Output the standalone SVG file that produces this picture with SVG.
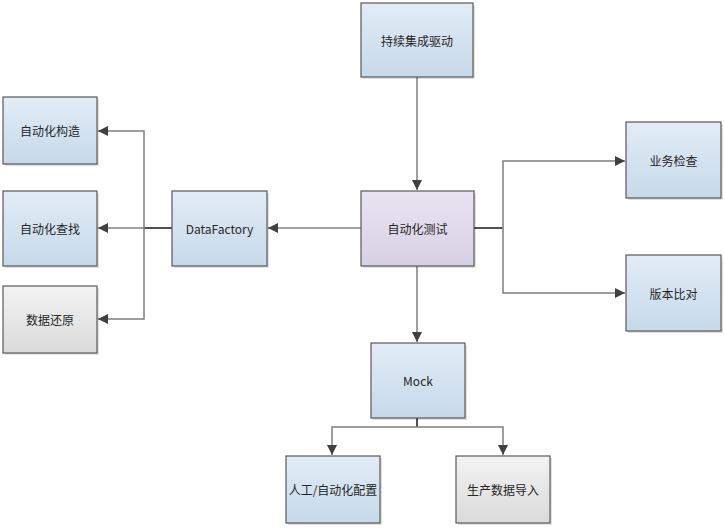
<svg xmlns="http://www.w3.org/2000/svg" width="724" height="528" viewBox="0 0 724 528">
<defs>
<linearGradient id="gb" x1="0" y1="0" x2="0" y2="1"><stop offset="0" stop-color="#e2ecf6"/><stop offset="1" stop-color="#c6d9ea"/></linearGradient>
<linearGradient id="gp" x1="0" y1="0" x2="0" y2="1"><stop offset="0" stop-color="#e8e3f0"/><stop offset="1" stop-color="#d8d0e5"/></linearGradient>
<linearGradient id="gg" x1="0" y1="0" x2="0" y2="1"><stop offset="0" stop-color="#f3f3f3"/><stop offset="1" stop-color="#dadada"/></linearGradient>
<marker id="ar" viewBox="0 0 10 10" refX="10" refY="5" markerWidth="10" markerHeight="10" markerUnits="userSpaceOnUse" orient="auto"><path d="M0,0 L10,5 L0,10 z" fill="#404040"/></marker>
</defs>
<style>
.box{stroke:#595959;stroke-width:1.2}
.sh{fill:#000;opacity:0.12}
.b{fill:url(#gb)}.p{fill:url(#gp)}.g{fill:url(#gg)}
text{font-family:"Microsoft YaHei","Noto Sans CJK SC","Noto Sans",sans-serif;font-size:12px;fill:#262626;text-anchor:middle;dominant-baseline:central}
.ln{fill:none;stroke:#7f7f7f;stroke-width:1.5}
.dk{fill:none;stroke:#505050;stroke-width:2}
</style>
<g id="connectors">
<line class="ln" x1="417" y1="77" x2="417" y2="190" marker-end="url(#ar)"/>
<line class="ln" x1="361" y1="228" x2="268" y2="228" marker-end="url(#ar)"/>
<line class="dk" x1="172" y1="228" x2="144" y2="228"/>
<line class="ln" x1="144" y1="228" x2="98" y2="228" marker-end="url(#ar)"/>
<polyline class="ln" points="144,228 144,131 98,131" marker-end="url(#ar)"/>
<polyline class="ln" points="144,228 144,319 98,319" marker-end="url(#ar)"/>
<line class="dk" x1="474" y1="228" x2="503" y2="228"/>
<polyline class="ln" points="503,228 503,161 625,161" marker-end="url(#ar)"/>
<polyline class="ln" points="503,228 503,293 625,293" marker-end="url(#ar)"/>
<line class="ln" x1="417" y1="266" x2="417" y2="342" marker-end="url(#ar)"/>
<line class="dk" x1="417" y1="418" x2="417" y2="427"/>
<polyline class="ln" points="417,427 332,427 332,455" marker-end="url(#ar)"/>
<polyline class="ln" points="417,427 503,427 503,455" marker-end="url(#ar)"/>
</g>
<g id="n-ci"><rect class="sh" x="363" y="5" width="112" height="74"/><rect class="box b" x="361" y="3" width="112" height="74"/><text x="417" y="40">持续集成驱动</text></g>
<g id="n-test"><rect class="sh" x="363" y="193" width="113" height="75"/><rect class="box p" x="361" y="191" width="113" height="75"/><text x="417.5" y="228.5">自动化测试</text></g>
<g id="n-df"><rect class="sh" x="174" y="193" width="95" height="75"/><rect class="box b" x="172" y="191" width="95" height="75"/><text x="219.5" y="228.5">DataFactory</text></g>
<g id="n-build"><rect class="sh" x="5" y="99" width="94" height="67"/><rect class="box b" x="3" y="97" width="94" height="67"/><text x="50" y="130.5">自动化构造</text></g>
<g id="n-find"><rect class="sh" x="5" y="193" width="94" height="75"/><rect class="box b" x="3" y="191" width="94" height="75"/><text x="50" y="228.5">自动化查找</text></g>
<g id="n-restore"><rect class="sh" x="5" y="288" width="94" height="67"/><rect class="box g" x="3" y="286" width="94" height="67"/><text x="50" y="319.5">数据还原</text></g>
<g id="n-biz"><rect class="sh" x="628" y="124" width="95" height="76"/><rect class="box b" x="626" y="122" width="95" height="76"/><text x="673.5" y="160">业务检查</text></g>
<g id="n-ver"><rect class="sh" x="628" y="257" width="95" height="76"/><rect class="box b" x="626" y="255" width="95" height="76"/><text x="673.5" y="293">版本比对</text></g>
<g id="n-mock"><rect class="sh" x="373" y="345" width="94" height="75"/><rect class="box b" x="371" y="343" width="94" height="75"/><text x="418" y="380.5">Mock</text></g>
<g id="n-cfg"><rect class="sh" x="288" y="458" width="94" height="67"/><rect class="box b" x="286" y="456" width="94" height="67"/><text x="333" y="489.5">人工/自动化配置</text></g>
<g id="n-prod"><rect class="sh" x="458" y="458" width="94" height="67"/><rect class="box g" x="456" y="456" width="94" height="67"/><text x="503" y="489.5">生产数据导入</text></g>
</svg>
